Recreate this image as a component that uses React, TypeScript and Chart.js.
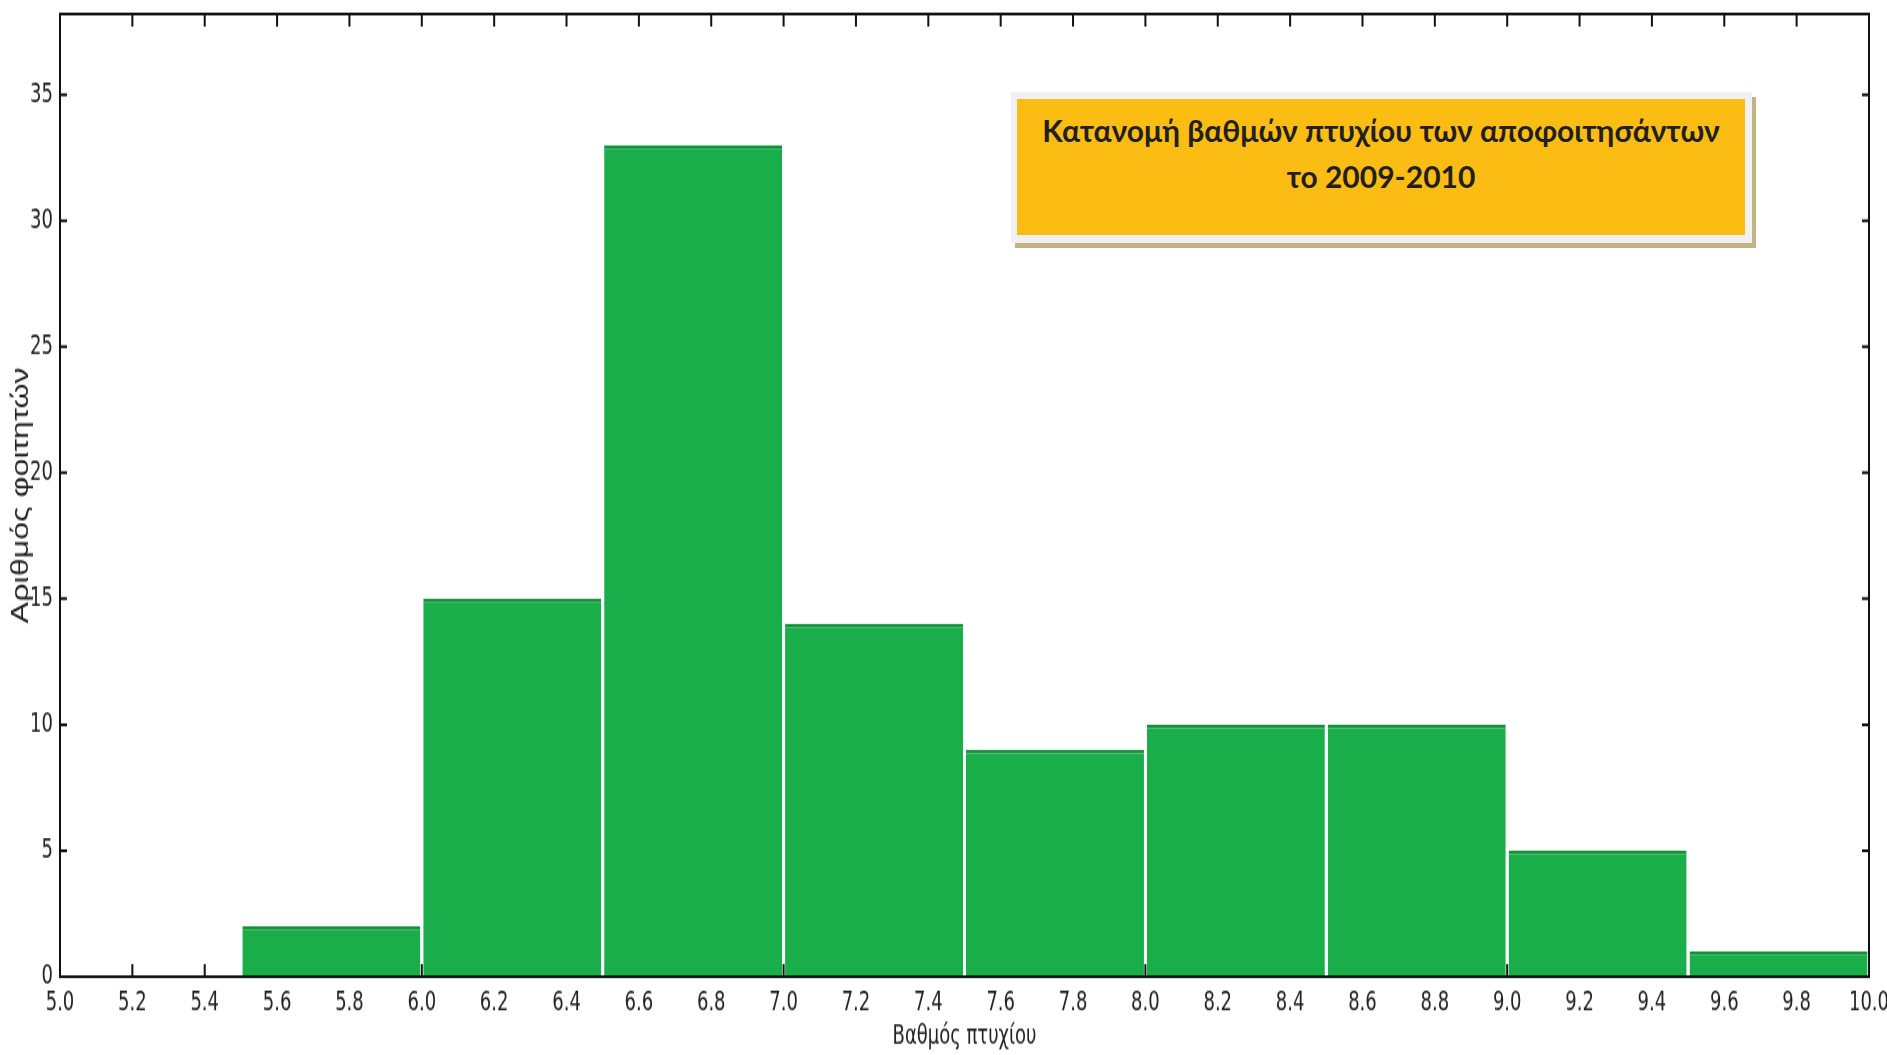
import { useEffect, useRef } from 'react';
import { Chart, registerables } from 'chart.js';

Chart.register(...registerables);

// ---- data ----
const binStarts = [5.5, 6.0, 6.5, 7.0, 7.5, 8.0, 8.5, 9.0, 9.5];
const binWidth = 0.5;
const counts = [2, 15, 33, 14, 9, 10, 10, 5, 1];
const xMin = 5.0;
const xMax = 10.0;
const xStep = 0.2;
const yMin = 0;
const yMax = 38.2;
const yStep = 5;
const titleLines = ['Κατανομή βαθμών πτυχίου των αποφοιτησάντων', 'το 2009-2010'];
const xTitle = 'Βαθμός πτυχίου';
const yTitle = 'Αριθμός φοιτητών';

// ---- sizing ----
const W = 1887;
const H = 1055;
const CH = 754; // canvas height before vertical stretch
const STRETCH = H / CH;

const NARROW = "'Liberation Sans Narrow', 'DejaVu Sans Condensed', 'Liberation Sans', sans-serif";
const REGULAR = "'Liberation Sans', Arial, sans-serif";

const framePlugin = {
  id: 'frameTicks',
  beforeDatasetsDraw(chart: any) {
    const { ctx, chartArea, scales } = chart;
    const { left, right, top, bottom } = chartArea;
    const x = scales.x;
    const y = scales.y;
    ctx.save();
    ctx.strokeStyle = '#111';
    ctx.lineWidth = 2;
    ctx.beginPath();
    x.ticks.forEach((t: any) => {
      const px = x.getPixelForValue(t.value);
      ctx.moveTo(px, bottom);
      ctx.lineTo(px, bottom - 9);
      ctx.moveTo(px, top);
      ctx.lineTo(px, top + 9);
    });
    y.ticks.forEach((t: any) => {
      const py = y.getPixelForValue(t.value);
      ctx.moveTo(left, py);
      ctx.lineTo(left + 7, py);
      ctx.moveTo(right, py);
      ctx.lineTo(right - 7, py);
    });
    ctx.stroke();
    ctx.restore();
  },
  afterDatasetsDraw(chart: any) {
    const { ctx, chartArea } = chart;
    const { left, right, top, bottom } = chartArea;
    ctx.save();
    ctx.strokeStyle = '#111';
    ctx.lineWidth = 2;
    ctx.strokeRect(left, top, right - left, bottom - top);
    ctx.restore();
  },
};

function HistChart() {
  const ref = useRef<HTMLCanvasElement | null>(null);
  useEffect(() => {
    if (!ref.current) return;
    const chart = new Chart(ref.current, {
      type: 'bar',
      data: {
        datasets: [
          {
            data: binStarts.map((s, i) => ({ x: s + binWidth / 2, y: counts[i] })),
            backgroundColor: '#1aae4a',
            borderColor: '#11913a',
            borderWidth: { top: 2.5, left: 0, right: 0, bottom: 0 },
            borderSkipped: 'start',
            // the bar ruler uses the tick spacing (xStep); widen to a full bin
            barPercentage: (binWidth / xStep) * 0.984,
            categoryPercentage: 1,
          } as any,
        ],
      },
      options: {
        animation: false,
        responsive: false,
        maintainAspectRatio: false,
        devicePixelRatio: 1,
        layout: { padding: { top: 10, right: 18, left: 0, bottom: 0 } },
        plugins: { legend: { display: false }, tooltip: { enabled: false } },
        scales: {
          x: {
            type: 'linear',
            min: xMin,
            max: xMax,
            offset: false,
            grid: { display: false, drawTicks: false },
            border: { display: false },
            ticks: {
              stepSize: xStep,
              autoSkip: false,
              maxRotation: 0,
              padding: 7,
              color: '#222',
              font: { family: NARROW, size: 20 },
              callback: (v: any) => Number(v).toFixed(1),
            },
            title: {
              display: true,
              text: xTitle,
              color: '#222',
              font: { family: NARROW, size: 20 },
              padding: { top: 0, bottom: 1 },
            },
            afterFit: (s: any) => {
              s.height = 56;
              s.paddingLeft = 0;
              s.paddingRight = 0;
            },
          },
          y: {
            type: 'linear',
            min: yMin,
            max: yMax,
            grid: { display: false, drawTicks: false },
            border: { display: false },
            ticks: {
              stepSize: yStep,
              includeBounds: false,
              padding: 7,
              color: '#222',
              font: { family: NARROW, size: 20 },
            },
            title: {
              display: true,
              text: yTitle,
              color: '#222',
              font: { family: REGULAR, size: 23 },
              padding: { top: 8, bottom: 0 },
            },
            afterFit: (s: any) => {
              s.width = 60;
              s.paddingTop = 0;
              s.paddingBottom = 0;
            },
          },
        },
      } as any,
      plugins: [framePlugin],
    });
    return () => chart.destroy();
  }, []);

  return (
    <div
      style={{
        position: 'fixed',
        left: 0,
        top: 0,
        width: W,
        height: CH,
        transform: `scaleY(${STRETCH})`,
        transformOrigin: '0 0',
      }}
    >
      <canvas ref={ref} width={W} height={CH} style={{ width: W, height: CH, display: 'block' }} />
    </div>
  );
}

function TitleBox() {
  return (
    <>
      <div style={{ position: 'fixed', left: 1015, top: 97, width: 741, height: 151, background: '#c3b282' }} />
      <div style={{ position: 'fixed', left: 1011, top: 92, width: 741, height: 151, background: '#eff1f4' }} />
      <div
        style={{
          position: 'fixed',
          left: 1017,
          top: 99,
          width: 728,
          height: 136,
          background: '#fbbd13',
          boxSizing: 'border-box',
          paddingTop: 8,
          textAlign: 'center',
          fontFamily: "Lato, 'Open Sans', 'Noto Sans', sans-serif",
          fontWeight: 700,
          fontSize: 30,
          lineHeight: '46px',
          color: '#231f20',
        }}
      >
        {titleLines.map((l, i) => (
          <div key={i}>{l}</div>
        ))}
      </div>
    </>
  );
}

export default function App() {
  return (
    <div style={{ position: 'fixed', left: 0, top: 0, width: W, height: H, background: '#fff' }}>
      <HistChart />
      <TitleBox />
    </div>
  );
}
